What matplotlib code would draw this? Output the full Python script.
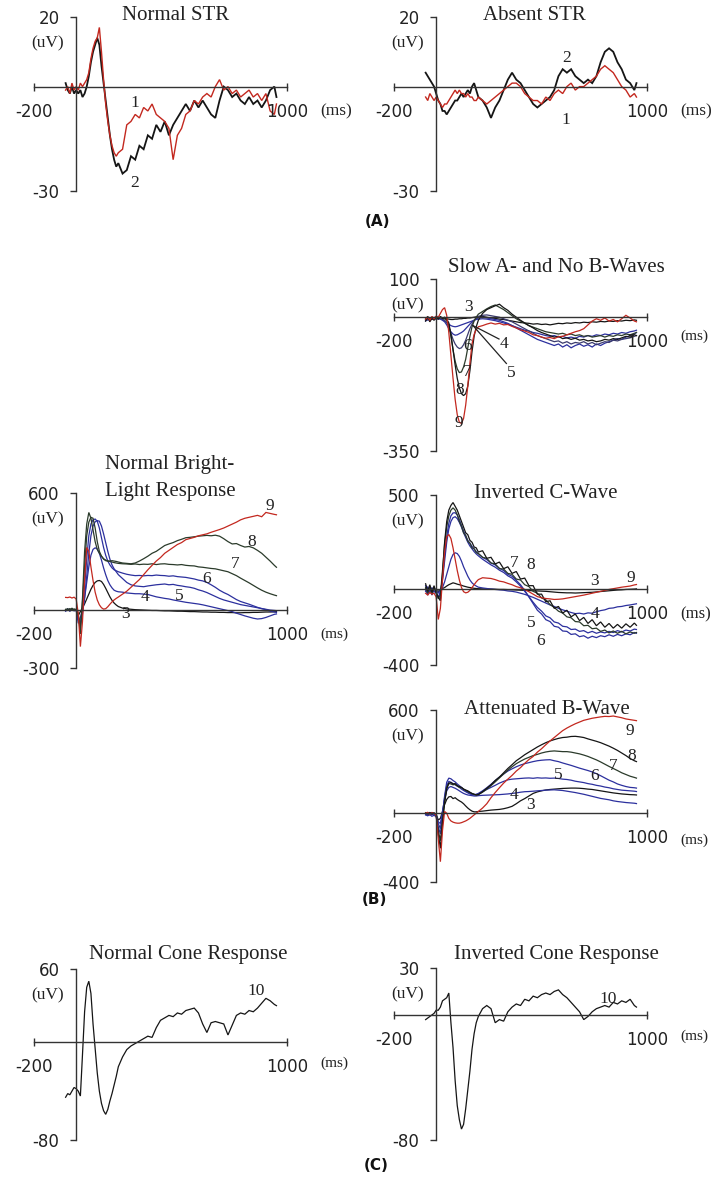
import matplotlib
matplotlib.use('Agg')
import matplotlib.pyplot as plt

# ---------------- DATA ----------------
# common sample times (ms)
t_ms = [-50, -40, -30, -20, -10, 0, 10, 20, 30, 40, 50, 60, 70, 80, 90, 100, 110, 120, 130,
        140, 150, 160, 170, 180, 190, 200,
        220, 240, 260, 280, 300, 320, 340, 360, 380, 400, 420, 440, 460, 480, 500, 520, 540,
        560, 580, 600, 620, 640, 660, 680, 700, 720, 740, 760, 780, 800, 820, 840, 860, 880,
        900, 920, 940, 950]

# (A) Normal STR (uV)
str_normal_2 = [1, -1, -2, 0, -2, -1, -2, -1, -3, -2, 0, 3, 7, 10, 12, 14, 12, 6, 1, -4,
                -9, -14, -18, -21, -23, -22] + \
               [-25, -24, -20, -21, -17, -18, -14, -15, -11, -13, -10, -14, -11, -9, -7, -5, -7, -4, -6, -4,
                -6, -8, -9, -4, 0, -1, -3, -2, -4, -5, -3, -5, -4, -6, -4, -1, 0, -3]
str_normal_1 = [-1, 0, -2, 1, -1, 0, -1, 1, 0, 1, 2, 4, 8, 11, 13, 14, 17, 10, 2, -5,
                -10, -14, -17, -19, -20, -19] + \
               [-18, -11, -10, -8, -9, -6, -7, -5, -8, -9, -10, -12, -21, -14, -12, -8, -7, -4, -5, -3,
                -2, -3, 0, 2, -1, 0, -2, -1, -3, -2, -1, -3, -2, -4, -2, -7, -8, -5]
# (A) Absent STR (uV)
str_absent_2 = [4, 3, 2, 1, 0, -2, -4, -5, -7, -7, -8, -7, -6, -5, -4, -4, -3, -2, -3, -2,
                -1, -2, 0, 1, -1, -3] + \
               [-4, -6, -9, -6, -4, -1, 2, 4, 2, 1, -1, -3, -5, -6, -5, -4, -3, -1, 3, 5,
                4, 5, 3, 2, 1, 2, 1, 3, 7, 10, 11, 10, 7, 5, 2, 1, -1, 1]
str_absent_1 = [-3, -4, -2, -3, -4, -3, -4, -5, -6, -5, -5, -4, -3, -2, -1, -2, -1, -2, -2, -3,
                -2, -3, -3, -4, -4, -3] + \
               [-4, -5, -4, -3, -2, -1, 0, 1, 1, 0, -2, -3, -4, -4, -5, -3, -4, -2, -1, -2,
                0, 1, -1, 0, 0, 1, 2, 3, 5, 6, 5, 4, 2, 0, -1, -3, -2, -3]

# (B) Slow A- and No B-Waves (uV)
slow_9 = [-5, 0, -8, 2, -5, 3, 0, 10, 20, 25, 5, -40, -100, -160, -215, -255, -275, -278, -265, -230,
          -180, -120, -70, -45, -32, -25] + \
         [-22, -18, -15, -18, -16, -20, -19, -24, -28, -33, -36, -40, -46, -48, -52, -55, -53, -56, -51, -50,
          -46, -42, -38, -35, -30, -20, -10, -4, -8, -2, -10, -6, -12, -4, 5, -2, -10, -12]
slow_8 = [-10, 0, -12, -3, -8, 0, -5, 2, -3, 0, -5, -15, -45, -85, -125, -160, -185, -200, -205, -200,
          -180, -140, -90, -50, -25, -8] + \
         [10, 20, 25, 30, 34, 25, 18, 8, 0, -8, -15, -22, -28, -35, -40, -44, -48, -52, -50, -56,
          -54, -58, -55, -60, -58, -62, -60, -64, -62, -58, -60, -56, -58, -54, -50, -52, -46, -48]
slow_7 = [-6, -2, -8, 0, -6, -2, -4, 0, -2, -4, -8, -20, -50, -85, -115, -135, -145, -143, -130, -110,
          -80, -50, -25, -10, 0, 8] + \
         [15, 22, 28, 32, 26, 20, 12, 4, -4, -10, -16, -22, -26, -30, -34, -38, -40, -42, -44, -42,
          -46, -44, -48, -46, -50, -48, -52, -50, -48, -52, -48, -50, -46, -48, -44, -46, -42, -40]
slow_6 = [-8, -3, -6, 0, -5, -2, -4, -2, -5, -8, -14, -25, -42, -58, -70, -78, -82, -80, -72, -60,
          -45, -30, -18, -8, -2, 2] + \
         [5, 6, 4, 2, 0, -4, -8, -12, -18, -24, -30, -36, -42, -48, -52, -56, -60, -64, -62, -68,
          -64, -70, -66, -68, -64, -70, -66, -72, -68, -64, -66, -60, -62, -58, -56, -54, -50, -48]
slow_5 = [-5, -8, -2, -6, 0, -4, -2, -5, -8, -12, -20, -30, -38, -44, -47, -46, -43, -40, -36, -30,
          -24, -18, -12, -8, -4, -2] + \
         [0, -2, -4, -6, -8, -12, -16, -22, -28, -34, -40, -46, -52, -58, -62, -66, -70, -74, -70, -78,
          -72, -80, -74, -70, -76, -72, -78, -70, -74, -68, -64, -60, -56, -58, -52, -48, -44, -40]
slow_4 = [-10, -4, -8, -2, -6, -3, -5, -4, -6, -10, -14, -18, -22, -24, -25, -24, -22, -20, -18, -16,
          -14, -12, -10, -8, -6, -5] + \
         [-4, -5, -7, -9, -12, -15, -18, -22, -26, -30, -34, -36, -40, -42, -45, -48, -50, -48, -52, -50,
          -54, -52, -55, -50, -52, -48, -50, -46, -48, -44, -46, -42, -44, -40, -42, -38, -36, -34]
slow_3 = [-4, 2, -6, 0, -3, 2, -2, 0, -2, -3, -4, -5, -6, -6, -5, -5, -4, -4, -3, -3,
          -2, -2, -1, 0, 1, 2] + \
         [2, 0, -2, -3, -5, -6, -8, -10, -12, -14, -15, -16, -18, -17, -19, -18, -20, -18, -16, -17,
          -15, -16, -14, -15, -13, -14, -12, -13, -11, -12, -10, -11, -9, -10, -8, -9, -7, -8]

# (B) Normal Bright-Light Response (uV)
bright_9 = [63, 62, 65, 60, 64, 55, -20, -190, -60, 150, 320, 300, 220, 150, 90, 50, 25, 10, 3, 5,
            15, 28, 40, 50, 58, 65] + \
           [80, 95, 115, 135, 155, 180, 205, 228, 250, 268, 290, 305, 320, 335, 345, 360, 366, 372, 380, 385,
            390, 398, 405, 412, 420, 430, 440, 450, 462, 470, 475, 480, 485, 478, 500, 495, 490, 488]
bright_8 = [0, 5, -5, 8, -3, 2, -20, -125, 60, 300, 440, 500, 470, 410, 350, 310, 290, 275, 262, 255,
            250, 250, 252, 250, 248, 245] + \
           [240, 238, 236, 240, 250, 262, 275, 290, 300, 315, 330, 338, 345, 355, 362, 370, 372, 375, 378, 380,
            382, 380, 383, 378, 365, 350, 338, 340, 330, 322, 325, 318, 305, 290, 270, 250, 228, 218]
bright_7 = [2, -3, 5, -2, 3, 0, -30, -100, 40, 220, 380, 450, 475, 470, 420, 350, 300, 275, 260, 252,
            250, 248, 245, 242, 240, 238] + \
           [236, 235, 233, 235, 232, 234, 233, 236, 232, 235, 236, 233, 232, 230, 232, 228, 226, 225, 220, 218,
            215, 212, 210, 205, 200, 195, 185, 175, 162, 150, 138, 125, 112, 100, 90, 82, 75, 72]
bright_6 = [-5, 3, -8, 2, -4, 0, -40, -80, 0, 120, 260, 380, 440, 462, 466, 455, 420, 370, 320, 280,
            250, 230, 215, 205, 200, 195] + \
           [188, 182, 178, 175, 176, 174, 176, 175, 178, 176, 175, 172, 174, 170, 168, 166, 162, 158, 152, 148,
            140, 128, 115, 100, 88, 78, 65, 52, 42, 35, 28, 20, 12, 5, 0, -8, -12, -14]
bright_5 = [-8, 0, -5, 3, -6, -2, -50, -70, -20, 60, 170, 290, 380, 430, 452, 458, 455, 430, 390, 345,
            300, 260, 230, 210, 195, 180] + \
           [160, 140, 128, 122, 120, 118, 122, 125, 128, 130, 132, 128, 130, 125, 122, 118, 115, 110, 102, 96,
            88, 78, 68, 58, 50, 44, 38, 32, 26, 22, 18, 14, 10, 6, 2, -2, -4, -5]
bright_4 = [-3, 4, -6, 2, -4, -2, -70, -40, 0, 60, 140, 220, 280, 310, 318, 312, 290, 255, 215, 180,
            150, 128, 112, 100, 95, 92] + \
           [90, 86, 84, 82, 82, 80, 78, 72, 66, 62, 58, 55, 50, 46, 42, 38, 35, 32, 29, 25,
            20, 15, 10, 5, 0, -5, -10, -18, -25, -32, -38, -44, -48, -46, -40, -32, -24, -22]
bright_3 = [0, -4, 3, -2, 2, 0, -30, -10, 10, 30, 55, 80, 105, 125, 140, 148, 150, 145, 130, 110,
            88, 66, 48, 34, 24, 16] + \
           [8, 4, 2, 0, -1, -2, -3, -4, -4, -5, -6, -6, -7, -8, -8, -9, -10, -10, -11, -12,
            -12, -13, -13, -14, -14, -15, -15, -16, -16, -15, -15, -14, -14, -13, -12, -12, -11, -10]

# (B) Inverted C-Wave (uV)
invc_9 = [-20, -30, -15, -25, -20, -40, -159, -100, 50, 200, 280, 291, 270, 220, 160, 100, 50, 10, -12, -18,
          -15, -5, 10, 25, 40, 52] + \
         [62, 60, 58, 52, 44, 40, 32, 25, 15, 9, 0, -12, -25, -38, -44, -48, -50, -53, -52, -50,
          -46, -42, -38, -34, -30, -25, -20, -15, -10, -5, 0, 4, 8, 12, 15, 18, 24, 26]
invc_8 = [30, -10, 25, -15, 20, -20, -40, -60, 80, 250, 360, 420, 445, 460, 440, 420, 390, 360, 330, 300,
          290, 260, 250, 225, 220, 198] + \
         [205, 165, 170, 135, 145, 110, 120, 85, 95, 55, 60, 20, 20, -25, -25, -65, -60, -100, -90, -125,
          -110, -145, -130, -165, -148, -180, -160, -192, -172, -200, -180, -205, -185, -205, -182, -200, -178, -190]
invc_7 = [10, -20, 15, -25, 10, -10, -50, -30, 100, 240, 330, 390, 420, 432, 420, 395, 360, 335, 300, 285,
          255, 245, 220, 215, 195, 190] + \
         [170, 165, 140, 135, 110, 108, 85, 80, 55, 50, 25, 15, -10, -20, -45, -55, -80, -95, -115, -125,
          -145, -150, -170, -172, -192, -190, -208, -205, -222, -215, -230, -220, -232, -222, -235, -225, -232, -228]
invc_6 = [0, -30, 10, -20, 5, -15, -40, -20, 60, 180, 280, 350, 390, 405, 406, 395, 370, 340, 310, 285,
          260, 245, 228, 215, 200, 190] + \
         [170, 158, 140, 130, 112, 100, 80, 70, 48, 25, -5, -40, -75, -110, -130, -160, -170, -195, -200, -220,
          -222, -238, -235, -250, -245, -258, -248, -255, -245, -250, -240, -248, -238, -245, -235, -240, -228, -232]
invc_5 = [20, -25, 5, -30, 10, -20, -45, -10, 50, 150, 250, 320, 360, 380, 385, 375, 355, 330, 300, 275,
          250, 230, 215, 200, 188, 178] + \
         [160, 145, 130, 118, 102, 90, 72, 60, 40, 18, -10, -38, -68, -95, -115, -140, -150, -172, -178, -195,
          -198, -212, -210, -222, -218, -230, -222, -232, -225, -230, -222, -228, -218, -225, -215, -220, -210, -212]
invc_4 = [-10, 15, -20, 10, -15, -5, -20, -5, 10, 40, 80, 120, 160, 185, 194, 190, 175, 150, 120, 95,
          70, 50, 35, 25, 18, 12] + \
         [8, 5, 2, 0, -2, -4, -8, -10, -14, -20, -26, -34, -42, -52, -62, -72, -82, -90, -100, -108,
          -115, -122, -128, -126, -130, -124, -126, -118, -112, -108, -100, -98, -92, -90, -85, -82, -78, -76]
invc_3 = [5, -15, 10, -10, 5, -5, -10, 0, 5, 10, 18, 25, 30, 35, 32, 28, 25, 22, 18, 15,
          12, 10, 8, 6, 5, 4] + \
         [3, 2, 2, 1, 0, 0, -1, -2, -3, -4, -5, -6, -7, -8, -9, -10, -12, -14, -16, -17,
          -18, -18, -19, -18, -17, -16, -15, -13, -11, -9, -7, -5, -3, -2, 0, 1, 2, 3]

# (B) Attenuated B-Wave (uV)
attb_9 = [0, 5, -5, 3, -2, -10, -150, -282, -100, 10, 0, -30, -45, -52, -56, -58, -58, -55, -50, -45,
          -38, -30, -20, -10, 0, 10] + \
         [30, 55, 90, 120, 148, 175, 198, 220, 245, 265, 290, 312, 330, 355, 375, 398, 420, 440, 460, 480,
          495, 508, 520, 530, 540, 546, 552, 556, 560, 563, 562, 565, 560, 555, 548, 544, 540, 538]
attb_8 = [0, -5, 3, -4, 2, -8, -120, -204, -60, 60, 140, 175, 178, 170, 172, 160, 155, 150, 140, 135,
          130, 122, 115, 110, 106, 108] + \
         [125, 145, 165, 190, 210, 235, 260, 282, 305, 322, 340, 355, 370, 385, 398, 410, 420, 428, 435, 440,
          442, 446, 447, 444, 440, 432, 425, 418, 410, 400, 390, 378, 365, 350, 335, 318, 305, 300]
attb_7 = [3, -2, 4, -3, 0, -6, -100, -160, -40, 70, 150, 172, 170, 165, 168, 158, 150, 148, 140, 132,
          126, 120, 114, 110, 106, 108] + \
         [122, 140, 160, 182, 205, 228, 250, 270, 288, 302, 315, 325, 335, 342, 350, 356, 360, 362, 360, 358,
          358, 355, 350, 345, 338, 330, 320, 310, 298, 285, 272, 260, 248, 235, 225, 215, 208, 204]
attb_6 = [-10, -15, -8, -18, -12, -20, -80, -120, -10, 100, 180, 204, 200, 190, 182, 170, 160, 150, 140, 130,
          122, 115, 110, 108, 110, 115] + \
         [130, 148, 168, 190, 210, 228, 245, 258, 270, 280, 288, 294, 300, 305, 308, 310, 311, 305, 300, 292,
          285, 278, 270, 262, 255, 248, 240, 230, 218, 205, 192, 182, 170, 162, 155, 150, 148, 146]
attb_5 = [-5, 0, -8, 2, -5, -10, -60, -90, 0, 90, 160, 185, 180, 172, 165, 158, 150, 140, 132, 125,
          118, 112, 108, 106, 108, 112] + \
         [125, 138, 150, 162, 175, 185, 194, 198, 200, 202, 204, 205, 203, 206, 204, 205, 203, 204, 202, 198,
          196, 192, 186, 182, 178, 172, 168, 162, 158, 152, 148, 142, 138, 134, 132, 130, 128, 126]
attb_4 = [-8, -3, -10, -5, -12, -15, -50, -60, 10, 80, 130, 150, 155, 150, 145, 138, 130, 122, 115, 110,
          106, 104, 102, 100, 100, 102] + \
         [104, 105, 106, 107, 108, 110, 112, 115, 118, 122, 125, 126, 128, 130, 132, 134, 135, 136, 134, 132,
          128, 124, 120, 115, 110, 104, 98, 92, 86, 82, 78, 72, 68, 65, 62, 60, 58, 56]
attb_3 = [0, 3, -2, 4, -3, -5, -40, -30, 10, 50, 80, 95, 97, 85, 90, 80, 72, 65, 55, 42,
          30, 20, 12, 8, 8, 10] + \
         [12, 15, 18, 20, 22, 26, 32, 40, 55, 72, 85, 100, 115, 124, 130, 135, 138, 140, 142, 144,
          145, 146, 146, 145, 143, 140, 138, 134, 130, 126, 122, 118, 115, 112, 110, 108, 107, 106]

# (C) Cone responses (uV)
cone_normal_10 = [-45, -42, -43, -40, -37, -38, -40, -44, -10, 25, 45, 50, 40, 15, -5, -25, -40, -50, -56, -59,
                  -55, -48, -42, -35, -28, -20] + \
                 [-12, -6, -3, -1, 1, 3, 5, 4, 12, 18, 20, 22, 21, 24, 23, 26, 27, 28, 24, 15,
                  8, 16, 17, 16, 15, 6, 14, 22, 24, 23, 26, 25, 28, 32, 36, 34, 31, 30]
cone_inverted_10 = [-3, -2, -1, 0, 1, 3, 3, 5, 9, 10, 11, 14, -5, -21, -42, -58, -67, -73, -70, -60,
                    -48, -36, -22, -12, -5, -1] + \
                   [4, 6, 4, -5, -3, -4, 2, 5, 7, 6, 10, 9, 12, 11, 13, 14, 13, 15, 16, 13,
                    11, 8, 5, 2, -3, -1, 2, 4, 5, 6, 5, 8, 7, 9, 8, 10, 6, 5]

# ---------------- FIGURE ----------------
W, H = 715, 1178
fig = plt.figure(figsize=(W / 100, H / 100), dpi=100)

RED = '#c3281f'
BLUE = '#2c309e'
BLACK = '#151515'
GREEN = '#2b3b2b'
NAVY = '#3b3b6e'
SERIF = 'Liberation Serif'
SANS = 'DejaVu Sans'
AXC = '#333333'


def pt(p):
    return p * 0.72


def make_panel(x0, x1, ytop, ybot, ymin, ymax, ms_dy=25, ms_size=12.5):
    ax = fig.add_axes([x0 / W, 1 - ybot / H, (x1 - x0) / W, (ybot - ytop) / H])
    ax.set_xlim(-200, 1000)
    ax.set_ylim(ymin, ymax)
    ax.patch.set_alpha(0)
    for s in ('top', 'right'):
        ax.spines[s].set_visible(False)
    ax.spines['left'].set_position(('data', 0))
    ax.spines['bottom'].set_position(('data', 0))
    for s in ('left', 'bottom'):
        ax.spines[s].set_color(AXC)
        ax.spines[s].set_linewidth(1.0)
    ax.set_yticks([ymin, ymax])
    ax.set_yticklabels([str(ymin), str(ymax)])
    ax.tick_params(axis='y', direction='out', length=4, width=1, color=AXC,
                   pad=8, labelsize=12, labelcolor='#222')
    ax.set_xticks([-200, 1000])
    ax.set_xticklabels([])
    ax.tick_params(axis='x', direction='inout', length=6, width=1, color=AXC)
    kw = dict(textcoords='offset points', va='center', color='#222')
    ax.annotate('-200', xy=(-200, 0), xytext=(0, -pt(25)), ha='center',
                fontsize=12, family=SANS, annotation_clip=False, **kw)
    ax.annotate('1000', xy=(1000, 0), xytext=(0, -pt(25)), ha='center',
                fontsize=12, family=SANS, annotation_clip=False, **kw)
    ax.annotate('(ms)', xy=(1000, 0), xytext=(pt(33), -pt(ms_dy)), ha='left',
                fontsize=ms_size, family=SERIF, annotation_clip=False, **kw)
    ax.annotate('(uV)', xy=(0, ymax), xytext=(-pt(12), -pt(26)), ha='right',
                fontsize=12.5, family=SERIF, annotation_clip=False, **kw)
    return ax


def title(x, y, s):
    fig.text(x / W, 1 - y / H, s, ha='center', va='center', family=SERIF,
             fontsize=15, color='#222')


def num(ax, x, y, s):
    ax.text(x, y, s, ha='center', va='center', family=SERIF, fontsize=12.5,
            color='#222', clip_on=False)


def trace(ax, vals, color, lw=0.9):
    ax.plot(t_ms, vals, color=color, lw=lw, clip_on=False, solid_joinstyle='miter')


def panel_letter(x, y, s):
    fig.text(x / W, 1 - y / H, s, ha='center', va='center', fontsize=11,
             fontweight='bold', family=SANS, color='#111')


LX0, LX1 = 34, 287
RX0, RX1 = 394, 647

# ---- (A) Normal STR
ax = make_panel(LX0, LX1, 17, 191, -30, 20)
trace(ax, str_normal_2, BLACK, 1.3)
trace(ax, str_normal_1, RED, 1.0)
num(ax, 277, -4.8, '1')
num(ax, 277, -27.8, '2')
title(176, 15, 'Normal STR')

# ---- (A) Absent STR
ax = make_panel(RX0, RX1, 17, 191, -30, 20)
trace(ax, str_absent_2, BLACK, 1.3)
trace(ax, str_absent_1, RED, 1.0)
num(ax, 620, 8.1, '2')
num(ax, 617, -9.6, '1')
title(534, 15, 'Absent STR')
panel_letter(378, 222, '(A)')

# ---- (B) Slow A- and No B-Waves
ax = make_panel(RX0, RX1, 279, 451, -350, 100, ms_dy=19, ms_size=11)
for vals, c in ((slow_3, BLACK), (slow_4, BLUE), (slow_5, BLUE), (slow_6, NAVY),
                (slow_7, GREEN), (slow_8, BLACK), (slow_9, RED)):
    trace(ax, vals, c)
ax.plot([175, 298], [-22, -57], color='#222', lw=0.9)
ax.plot([175, 333], [-22, -121], color='#222', lw=0.9)
num(ax, 151, 26, '3')
num(ax, 320, -71, '4')
num(ax, 357, -147, '5')
num(ax, 151, -74, '6')
num(ax, 146, -143, '7')
num(ax, 111, -191, '8')
num(ax, 107, -277, '9')
title(556, 268, 'Slow A- and No B-Waves')

# ---- (B) Normal Bright-Light Response
ax = make_panel(LX0, LX1, 493, 668, -300, 600, ms_dy=25, ms_size=11)
for vals, c in ((bright_3, BLACK), (bright_4, BLUE), (bright_5, BLUE), (bright_6, BLUE),
                (bright_7, GREEN), (bright_8, GREEN), (bright_9, RED)):
    trace(ax, vals, c)
num(ax, 918, 535, '9')
num(ax, 834, 346, '8')
num(ax, 752, 235, '7')
num(ax, 617, 158, '6')
num(ax, 491, 72, '5')
num(ax, 325, 63, '4')
num(ax, 235, -22, '3')
title(170, 465, 'Normal Bright-')
title(170, 492, 'Light Response')

# ---- (B) Inverted C-Wave
ax = make_panel(RX0, RX1, 495, 665, -400, 500, ms_dy=25, ms_size=12)
for vals, c in ((invc_3, BLACK), (invc_4, BLUE), (invc_5, BLUE), (invc_6, BLUE),
                (invc_7, GREEN), (invc_8, BLACK), (invc_9, RED)):
    trace(ax, vals, c)
num(ax, 368, 141, '7')
num(ax, 448, 132, '8')
num(ax, 752, 44, '3')
num(ax, 922, 62, '9')
num(ax, 752, -132, '4')
num(ax, 451, -176, '5')
num(ax, 496, -274, '6')
title(546, 493, 'Inverted C-Wave')

# ---- (B) Attenuated B-Wave
ax = make_panel(RX0, RX1, 710, 882, -400, 600, ms_dy=27, ms_size=11)
for vals, c in ((attb_3, BLACK), (attb_4, BLUE), (attb_5, BLUE), (attb_6, BLUE),
                (attb_7, GREEN), (attb_8, BLACK), (attb_9, RED)):
    trace(ax, vals, c)
num(ax, 918, 476, '9')
num(ax, 926, 330, '8')
num(ax, 839, 272, '7')
num(ax, 752, 214, '6')
num(ax, 580, 223, '5')
num(ax, 368, 107, '4')
num(ax, 447, 49, '3')
title(547, 709, 'Attenuated B-Wave')
panel_letter(374, 899, '(B)')

# ---- (C) Normal Cone Response
ax = make_panel(LX0, LX1, 969, 1140, -80, 60, ms_dy=21, ms_size=11)
trace(ax, cone_normal_10, BLACK, 0.9)
num(ax, 854, 42, '10')
title(188, 955, 'Normal Cone Response')

# ---- (C) Inverted Cone Response
ax = make_panel(RX0, RX1, 968, 1140, -80, 30, ms_dy=21, ms_size=11)
trace(ax, cone_inverted_10, BLACK, 0.9)
num(ax, 815, 10, '10')
title(556, 955, 'Inverted Cone Response')
panel_letter(376, 1165, '(C)')

fig.savefig('out.png', dpi=100, facecolor='white')
